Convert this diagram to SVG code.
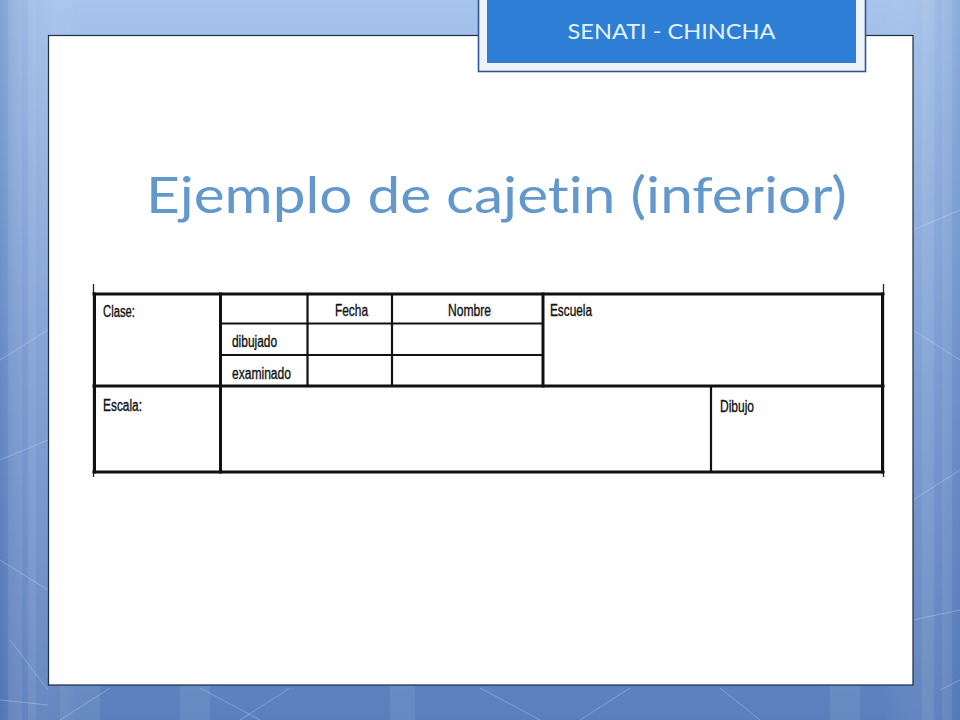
<svg xmlns="http://www.w3.org/2000/svg" width="960" height="720" viewBox="0 0 960 720">
<defs>
<linearGradient id="bg" x1="0" y1="0" x2="0" y2="1">
<stop offset="0" stop-color="#a6c4ec"/>
<stop offset="0.5" stop-color="#7d9fd6"/>
<stop offset="1" stop-color="#5a7fbc"/>
</linearGradient>
<linearGradient id="bgh" x1="0" y1="0" x2="1" y2="0">
<stop offset="0" stop-color="#3e64a8" stop-opacity="0.35"/>
<stop offset="0.08" stop-color="#ffffff" stop-opacity="0"/>
<stop offset="0.92" stop-color="#ffffff" stop-opacity="0"/>
<stop offset="1" stop-color="#3e64a8" stop-opacity="0.25"/>
</linearGradient>
<style>
.tb{stroke:#111;stroke-width:3;fill:none;stroke-linecap:square}
.tn{stroke:#111;stroke-width:2.2;fill:none}
.tk{stroke:#222;stroke-width:1.3;fill:none}
.lab{font-family:"Liberation Sans Narrow","Liberation Sans",Arial,sans-serif;font-size:16px;fill:#111;stroke:#111;stroke-width:0.35}
.deco{stroke:#ffffff;stroke-opacity:0.25;stroke-width:1;fill:none}
.stripe{fill:#ffffff;opacity:0.08}
.title{font-family:Lato,"Noto Sans",sans-serif;font-size:50px;font-weight:400;fill:#6298cb;font-variant-ligatures:none}
</style>
</defs>
<g id="background">
<rect x="0" y="0" width="960" height="720" fill="url(#bg)"/>
<rect x="0" y="0" width="960" height="720" fill="url(#bgh)"/>
<rect class="stripe" x="8" y="0" width="14" height="720"/>
<rect class="stripe" x="28" y="0" width="8" height="720"/>
<rect class="stripe" x="922" y="0" width="12" height="720"/>
<rect class="stripe" x="942" y="0" width="10" height="720"/>
<rect class="stripe" x="60" y="686" width="40" height="34"/>
<rect class="stripe" x="180" y="686" width="30" height="34"/>
<rect class="stripe" x="390" y="686" width="25" height="34"/>
<rect class="stripe" x="830" y="686" width="30" height="34"/>
<path class="deco" d="M0 360 L48 330 M0 460 L48 440 M0 560 L48 590 M10 640 L48 690 M0 700 L48 705"/>
<path class="deco" d="M913 230 L960 210 M913 330 L960 360 M913 500 L960 470 M913 620 L960 610"/>
<path class="deco" d="M60 720 L110 688 M200 688 L260 720 M240 720 L290 688 M480 688 L540 720 M580 720 L630 688 M720 688 L760 720 M940 690 L960 680"/>
</g>
<g id="panel">
<rect x="48.5" y="35.5" width="864.5" height="649.5" fill="#ffffff" stroke="#1c2c44" stroke-width="1.2"/>
</g>
<g id="header">
<rect x="478.5" y="-2" width="387" height="73.5" fill="#eef3f9" stroke="#2b5893" stroke-width="1.6"/>
<rect x="487" y="0" width="369" height="63" fill="#2e7ed6"/>
<text x="671.5" y="38.5" text-anchor="middle" font-family="Lato,'DejaVu Sans',sans-serif" font-size="21" fill="#e4f3ff" textLength="208" lengthAdjust="spacingAndGlyphs">SENATI - CHINCHA</text>
</g>
<g id="title">
<text class="title" x="146" y="213" textLength="701" lengthAdjust="spacingAndGlyphs">Ejemplo de cajetin (inferior)</text>
</g>
<g id="connectors">
<line class="tk" x1="93.5" y1="284" x2="93.5" y2="477"/>
<line class="tk" x1="883.5" y1="284" x2="883.5" y2="477"/>
<line class="tb" x1="94" y1="294" x2="883" y2="294"/>
<line class="tb" x1="94" y1="472" x2="883" y2="472"/>
<line class="tb" x1="94" y1="386" x2="883" y2="386"/>
<line class="tb" x1="94.5" y1="294" x2="94.5" y2="472"/>
<line class="tb" x1="882.5" y1="294" x2="882.5" y2="472"/>
<line class="tb" x1="220.5" y1="294" x2="220.5" y2="472"/>
<line class="tn" x1="307.5" y1="294" x2="307.5" y2="386"/>
<line class="tn" x1="392" y1="294" x2="392" y2="386"/>
<line class="tb" x1="543" y1="294" x2="543" y2="386"/>
<line class="tn" x1="220" y1="323.5" x2="543" y2="323.5"/>
<line class="tn" x1="220" y1="355" x2="543" y2="355"/>
<line class="tn" x1="711" y1="386" x2="711" y2="472"/>
</g>
<g id="labels">
<text class="lab" x="103" y="317" textLength="32" lengthAdjust="spacingAndGlyphs">Clase:</text>
<text class="lab" x="335" y="316" textLength="33" lengthAdjust="spacingAndGlyphs">Fecha</text>
<text class="lab" x="448" y="316" textLength="43" lengthAdjust="spacingAndGlyphs">Nombre</text>
<text class="lab" x="550" y="316" textLength="42" lengthAdjust="spacingAndGlyphs">Escuela</text>
<text class="lab" x="232" y="347" textLength="45" lengthAdjust="spacingAndGlyphs">dibujado</text>
<text class="lab" x="232" y="379" textLength="59" lengthAdjust="spacingAndGlyphs">examinado</text>
<text class="lab" x="103" y="411" textLength="39" lengthAdjust="spacingAndGlyphs">Escala:</text>
<text class="lab" x="720" y="412" textLength="34" lengthAdjust="spacingAndGlyphs">Dibujo</text>
</g>
</svg>
